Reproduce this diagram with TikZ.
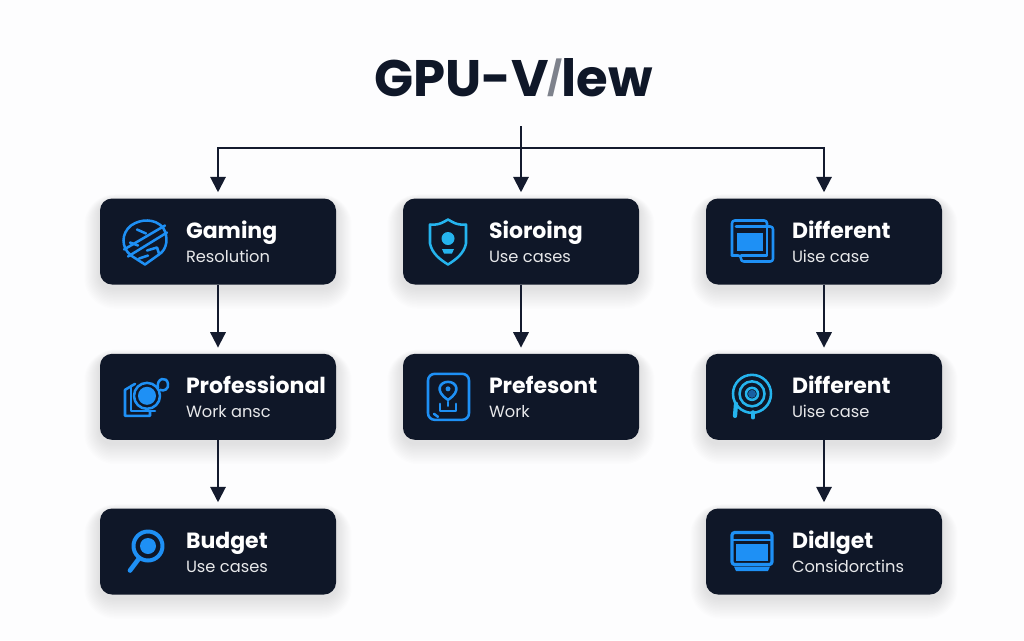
\documentclass[tikz,border=0pt]{standalone}
\usepackage{fontspec}
\setmainfont{Poppins}
\usetikzlibrary{positioning,arrows.meta,backgrounds}

\definecolor{pagecol}{HTML}{FDFDFE}
\definecolor{cardcol}{HTML}{0F1728}
\definecolor{linecol}{HTML}{141B2E}
\definecolor{iconblue}{HTML}{1E90F5}
\definecolor{iconcyan}{HTML}{25B4EE}

\tikzset{
    card/.style={fill=cardcol, rounded corners=9pt, minimum width=177pt, minimum height=64.5pt, inner sep=0pt},
    cardtitle/.style={anchor=base west, text=white, font=\fontsize{16.5pt}{18pt}\selectfont\bfseries, inner sep=0pt},
    cardtext/.style={anchor=base west, text=white!90!cardcol, font=\fontsize{12.2pt}{14pt}\selectfont, inner sep=0pt},
    link/.style={draw=linecol, line width=1.5pt, -{Triangle[length=11.5pt,width=11.5pt]}, shorten >=4.5pt},
    icon/.style={draw=iconblue, line width=1.9pt, line join=round, line cap=round},
    iconfill/.style={fill=iconblue},
    icon gaming/.pic={
        \draw[icon] (-14,16) .. controls (-4,23) and (10,23) .. (18,14) .. controls (24,4) and (22,-8) .. (14,-13)
            -- (0,-23) -- (-14,-14) .. controls (-24,-6) and (-24,8) .. (-14,16);
        \draw[icon] (-21,-8) -- (20,16);
        \draw[icon] (-17,-15) -- (22,9);
        \draw[icon] (-8,12) -- (1,8) (-15,-1) -- (-7,-4) (2,-9) -- (12,-6) -- (14,-12) (-6,-17) -- (3,-14);
    },
    icon professional/.pic={
        \draw[icon] (-10,13) -- (-20,7) -- (-20,-19) -- (5,-19) -- (5,-14);
        \draw[icon] (-14,11) -- (-14,-14) -- (10,-14);
        \draw[icon] (2,1) circle (13);
        \fill[iconfill] (2,1) circle (9);
        \draw[icon] (13,9) .. controls (11,19) and (22,21) .. (23,13) .. controls (24,8) and (19,5) .. (15,7);
    },
    icon budget/.pic={
        \draw[icon, line width=3pt] (3,5.5) circle (14.5);
        \fill[iconfill] (3,5.5) circle (8);
        \draw[icon, line width=3.5pt] (-6,-7) -- (-15,-19);
    },
    icon storing/.pic={
        \draw[icon, draw=iconcyan] (-18,17) .. controls (-8,16) and (-4,20) .. (0,22)
            .. controls (4,20) and (8,16) .. (18,17) -- (18,-2) .. controls (16,-12) and (8,-18) .. (0,-23)
            .. controls (-8,-18) and (-16,-12) .. (-18,-2) -- cycle;
        \fill[iconcyan] (0,3) circle (6.5);
        \fill[iconcyan] (-6,-7.5) -- (6,-7.5) -- (4,-12) -- (-4,-12) -- cycle;
    },
    icon prefesont/.pic={
        \draw[icon, rounded corners=5pt] (-20,23) rectangle (21,-23);
        \draw[icon] (0,-3) .. controls (-14,6) and (-8,15) .. (0,15) .. controls (8,15) and (14,6) .. (0,-3);
        \fill[iconfill] (0,8) circle (2.5);
        \draw[icon] (-8,-7) -- (-8,-14) -- (8,-14) -- (8,-7);
        \draw[icon] (0,-5) -- (0,-9);
        \draw[icon] (-14,-17) -- (-10,-20);
    },
    icon window/.pic={
        \draw[icon, rounded corners=2pt] (-20,-14) -- (-20,21) -- (15,21) -- (15,15);
        \draw[icon, rounded corners=2pt] (-20,-14) -- (-11,-14) -- (-11,-20) -- (21,-20) -- (21,15) -- (-11,15);
        \fill[iconfill] (-15,9) rectangle (11,-9);
        \draw[icon] (-16,15) -- (15,15) (15,15) -- (15,-14) -- (-11,-14);
    },
    icon target/.pic={
        \draw[icon, draw=iconcyan] (0,3) circle (19);
        \draw[icon, draw=iconcyan] (0,3) circle (12.5);
        \draw[icon, draw=iconcyan] (0,3) circle (6);
        \fill[iconblue!60!cardcol] (0,3) circle (4);
        \draw[icon, draw=iconcyan, line width=3.2pt] (-16,-7) -- (-17,-19);
        \draw[icon, draw=iconcyan, line width=2.4pt] (1,-15) -- (1,-21);
    },
    icon monitor/.pic={
        \draw[icon, rounded corners=2pt, line width=2.4pt] (-20,19) rectangle (20,-13);
        \draw[icon, line width=1.5pt] (-20,12) -- (20,12);
        \fill[iconfill] (-16,8) rectangle (16,-9);
        \fill[iconfill] (-18,-15) -- (18,-15) -- (16,-19.5) -- (-16,-19.5) -- cycle;
    }
}

% Soft shadow under a card, then its two lines of text
\newcommand{\cardlabels}[3]{
    \begin{scope}[on background layer]
        \foreach \g in {1,...,14}
            \fill[black!70!blue, opacity=.006, rounded corners=9+\g]
                ([shift={(-\g*1.1,-\g*1.5-3)}]#1.south west) rectangle ([shift={(\g*1.1,\g*.5-3)}]#1.north east);
    \end{scope}
    \node[cardtitle] (#1_title) at ([shift={(86,3)}]#1.west) {#2};
    \node[cardtext] (#1_text) at ([shift={(86,-21)}]#1.west) {#3};
}

\begin{document}
\begin{tikzpicture}[x=0.75pt, y=0.75pt]
    \useasboundingbox (0,0) rectangle (1024,-640);
    \begin{scope}[on background layer]
        \fill[pagecol] (0,0) rectangle (1024,-640);
    \end{scope}

    % Define nodes
    \node[anchor=base, text=cardcol, font=\fontsize{38.5pt}{44pt}\selectfont\bfseries, inner sep=0pt] (title) at (513.5,-96)
        {GPU-V\kern-1pt\raisebox{4.5pt}{\fontsize{25pt}{28pt}\selectfont\color{linecol!55!white}/}\kern-1pt lew};
    \coordinate (stem) at (521,-126);
    \coordinate (split) at (521,-148);

    \node[card] (gaming) at (218,-241.5) {};
    \node[card, right=227.25pt of gaming.center, anchor=center] (storing) {};
    \node[card, right=227.25pt of storing.center, anchor=center] (different) {};
    \node[card, below=116.5pt of gaming.center, anchor=center] (professional) {};
    \node[card, below=116.5pt of storing.center, anchor=center] (prefesont) {};
    \node[card, below=116.5pt of different.center, anchor=center] (different_b) {};
    \node[card, below=116pt of professional.center, anchor=center] (budget) {};
    \node[card, below=116pt of different_b.center, anchor=center] (didlget) {};

    \cardlabels{gaming}{Gaming}{Resolution}
    \cardlabels{storing}{Sioroing}{Use cases}
    \cardlabels{different}{Different}{Uise case}
    \cardlabels{professional}{Professional}{Work ansc}
    \cardlabels{prefesont}{Prefesont}{Work}
    \cardlabels{different_b}{Different}{Uise case}
    \cardlabels{budget}{Budget}{Use cases}
    \cardlabels{didlget}{Didlget}{Considorctins}

    % Icons
    \pic at ([xshift=-54.75pt]gaming.center) {icon gaming};
    \pic at ([xshift=-54.75pt]storing.center) {icon storing};
    \pic at ([xshift=-54pt]different.center) {icon window};
    \pic at ([xshift=-54.75pt]professional.center) {icon professional};
    \pic at ([xshift=-54.75pt]prefesont.center) {icon prefesont};
    \pic at ([xshift=-54pt]different_b.center) {icon target};
    \pic at ([xshift=-54.75pt]budget.center) {icon budget};
    \pic at ([xshift=-54pt]didlget.center) {icon monitor};

    % Connectors
    \draw[link] (stem) -- (storing);
    \draw[link] (split) -| (gaming);
    \draw[link] (split) -| (different);
    \draw[link] (gaming) -- (professional);
    \draw[link] (professional) -- (budget);
    \draw[link] (storing) -- (prefesont);
    \draw[link] (different) -- (different_b);
    \draw[link] (different_b) -- (didlget);
\end{tikzpicture}
\end{document}
